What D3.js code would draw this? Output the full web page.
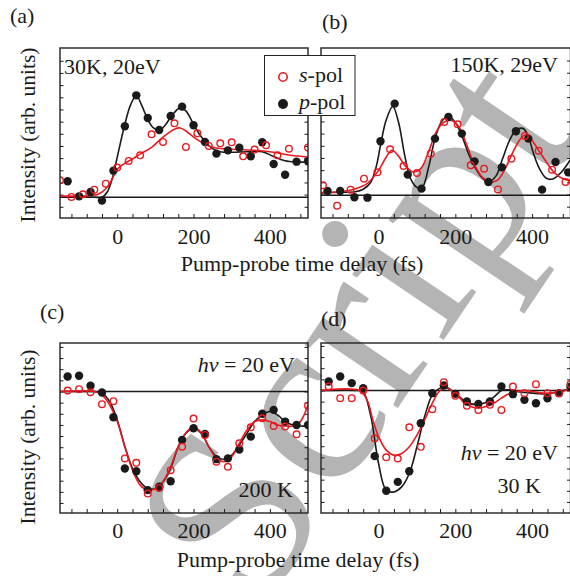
<!DOCTYPE html>
<html>
<head>
<meta charset="utf-8">
<script src="https://cdn.jsdelivr.net/npm/d3@7"></script>
<style>
  body { margin: 0; background: #fff; }
  text { font-family: "Liberation Serif", "Times New Roman", serif; fill: #1a1a1a; }
</style>
</head>
<body>
<div id="fig"></div>
<script>
// x axis (fs) – shared by all four panels
const X_DOMAIN = [-150, 500];
const X_TICKS = d3.range(-120, 501, 40);
const X_LABELS = [0, 200, 400];

// (a) 30K, 20eV  – [delay fs, intensity]
const A_P = [[-130,1.32],[-100,0.08],[-70,0.44],[-40,-0.27],[-10,2.19],[20,5.84],[50,8.38],[80,6.52],[110,5.53],[140,6.68],[170,7.45],[200,5.92],[230,4.55],[260,3.59],[290,3.86],[320,4.08],[350,3.37],[380,4.52],[410,2.74],[440,1.86],[470,2.93],[500,2.96]];
const A_S = [[-150,1.40],[-120,0.03],[-90,0.25],[-60,0.63],[-30,1.12],[0,2.44],[30,2.99],[60,3.45],[90,5.18],[120,4.55],[150,6.08],[180,4.14],[210,5.26],[240,4.22],[270,4.44],[300,4.52],[330,3.37],[360,3.92],[390,4.27],[420,3.45],[450,4.00],[500,4.10]];
const A_PFIT = [[-150,0.05],[-100,0.02],[-60,0],[-40,0],[-25,0.5],[-10,1.9],[0,3.3],[20,6.0],[35,7.6],[50,8.35],[65,7.5],[80,6.4],[95,5.7],[110,5.5],[125,5.9],[145,6.8],[165,7.35],[180,7.1],[200,6.0],[215,5.2],[230,4.6],[250,4.0],[270,3.75],[300,3.7],[340,3.75],[380,3.75],[410,3.35],[440,3.0],[470,2.9],[500,2.9]];
const A_SFIT = [[-150,0.1],[-100,0.1],[-70,0.15],[-50,0.25],[-30,0.7],[-15,1.4],[0,2.3],[20,2.8],[40,3.15],[60,3.55],[90,4.1],[120,4.95],[150,5.6],[165,5.7],[180,5.45],[205,4.85],[230,4.35],[260,4.05],[300,3.95],[370,3.85],[410,3.7],[455,3.45],[500,3.3]];

// (b) 150K, 29eV
const B_P = [[-133,0.36],[-100,0.36],[-63,-0.16],[-29,-0.19],[5,4.44],[42,7.53],[76,1.70],[112,0.55],[147,4.66],[182,6.44],[217,5.07],[250,2.79],[286,1.10],[321,2.30],[358,5.26],[390,4.66],[426,0.47],[461,2.74],[494,1.89]];
const B_S = [[-145,0.82],[-108,-0.85],[-73,0.47],[-38,1.37],[-3,1.89],[30,3.78],[65,2.41],[100,1.84],[136,3.42],[171,6.03],[206,5.84],[240,2.47],[275,2.19],[311,0.49],[346,3.01],[381,4.88],[417,3.67],[452,2.11],[487,1.10]];
const B_PFIT = [[-150,0.2],[-100,0.25],[-60,0.3],[-40,0.5],[-20,1.1],[-5,2.5],[5,4.1],[20,6.2],[37,7.3],[52,6.0],[68,3.3],[83,1.4],[100,0.65],[113,0.6],[131,2.4],[148,4.8],[166,6.15],[182,6.5],[200,6.0],[218,4.8],[236,3.3],[253,2.2],[271,1.4],[288,1.15],[306,1.6],[323,3.0],[341,4.5],[358,5.35],[376,5.5],[389,4.95],[402,3.6],[419,2.2],[437,1.4],[454,1.35],[476,1.9],[500,2.95]];
const B_SFIT = [[-150,0.22],[-100,0.3],[-60,0.55],[-30,0.96],[0,2.05],[20,3.15],[35,3.7],[50,3.3],[70,2.4],[90,1.92],[110,2.2],[130,3.55],[150,5.2],[170,6.0],[190,6.15],[210,5.6],[230,4.1],[250,2.5],[270,1.5],[290,1.1],[310,1.25],[330,2.2],[350,3.55],[370,4.65],[385,5.0],[400,4.5],[420,3.55],[440,2.6],[460,1.8],[480,1.37],[500,1.2]];

// (c) hv = 20 eV, 200 K
const C_P = [[-130,1.35],[-100,1.41],[-70,0.51],[-40,-0.09],[-10,-2.31],[20,-6.91],[50,-7.15],[80,-8.85],[110,-8.55],[140,-8.05],[170,-4.35],[200,-3.3],[230,-3.8],[260,-6.07],[290,-6.0],[320,-5.2],[350,-4.05],[380,-2.0],[410,-1.65],[440,-2.7],[470,-3.0],[500,-3.0]];
const C_S = [[-130,0.09],[-100,0.21],[-70,-0.06],[-40,-1.14],[-10,-0.87],[20,-6.0],[50,-6.4],[80,-9.16],[110,-8.65],[140,-7.06],[170,-4.95],[200,-2.43],[230,-3.9],[260,-6.3],[290,-6.76],[320,-4.65],[350,-3.21],[380,-2.4],[410,-3.09],[440,-3.15],[470,-3.84],[500,-1.29]];
const C_PFIT = [[-150,0],[-80,0],[-60,0],[-40,-0.15],[-20,-0.9],[0,-2.55],[20,-4.95],[40,-6.9],[60,-8.1],[80,-8.7],[100,-8.7],[120,-8.1],[140,-6.9],[160,-4.95],[180,-3.75],[200,-3.3],[220,-3.75],[240,-4.95],[260,-5.85],[280,-6.1],[300,-5.7],[320,-4.8],[340,-3.75],[360,-2.7],[380,-2.1],[400,-1.8],[420,-2.1],[440,-2.7],[460,-3.0],[480,-3.1],[500,-3.1]];
const C_SFIT = [[-150,0],[-60,0],[-40,-0.3],[-20,-1.2],[0,-2.7],[20,-4.95],[40,-7.05],[60,-8.4],[80,-8.85],[100,-8.7],[120,-8.1],[140,-6.75],[160,-4.95],[180,-3.7],[200,-3.2],[220,-3.7],[240,-4.95],[260,-6.0],[280,-6.3],[300,-5.85],[320,-4.65],[340,-3.45],[360,-2.7],[380,-2.55],[400,-2.7],[420,-3.0],[440,-3.1],[460,-3.1],[480,-2.7],[500,-1.2]];

// (d) hv = 20 eV, 30 K
const D_P = [[-130,0.81],[-100,1.26],[-70,0.66],[-40,0.21],[-10,-5.89],[20,-9.0],[50,-8.2],[80,-7.24],[110,-2.94],[140,-0.24],[170,0.45],[200,-0.3],[230,-0.99],[260,-1.2],[290,-0.99],[320,0.36],[350,-0.33],[380,-0.84],[410,-1.14],[440,-0.69],[470,-0.24],[500,0.35]];
const D_S = [[-130,0.36],[-100,-0.69],[-70,-0.69],[-40,0],[-10,-4.29],[20,-6.0],[50,-6.1],[80,-3.3],[110,-5.05],[140,-1.68],[170,0.75],[200,-0.48],[230,-1.38],[260,-1.74],[290,-1.29],[320,-1.74],[350,0.36],[380,-0.24],[410,0.57],[440,-0.24],[470,-0.24],[500,0.57]];
const D_PFIT = [[-150,0],[-50,0],[-40,-0.09],[-20,-2.34],[0,-6.55],[20,-8.95],[40,-9.1],[60,-8.65],[80,-7.45],[100,-5.05],[120,-2.34],[140,-0.39],[160,0.21],[175,0.3],[200,-0.24],[220,-0.84],[240,-1.2],[260,-1.23],[280,-1.08],[300,-0.6],[320,0],[340,0.06],[360,-0.09],[380,-0.18],[400,-0.24],[430,-0.3],[460,-0.18],[500,0.21]];
const D_SFIT = [[-150,0],[-50,0],[-30,-0.84],[-15,-2.64],[0,-4.14],[20,-5.35],[40,-5.8],[60,-5.65],[80,-5.05],[100,-4.0],[120,-2.64],[140,-1.14],[160,0],[175,0.21],[200,-0.24],[220,-0.99],[240,-1.44],[260,-1.59],[280,-1.44],[300,-1.14],[320,-0.69],[340,-0.3],[360,-0.09],[380,0],[400,-0.09],[430,-0.24],[460,-0.18],[480,-0.09],[500,0.27]];

const RED = "#e8191f", BLACK = "#1a1a1a";

const W = 570, H = 576;
const svg = d3.select("#fig").append("svg").attr("width", W).attr("height", H);

// watermark (behind everything)
svg.append("text")
  .attr("transform", "translate(258,615) rotate(-56)")
  .style("font-size", "245px")
  .style("fill", "#b4b4b4")
  .text("Script");

const panels = [
  { id: "a", x0: 60,  x1: 308,   y0: 48,  y1: 218, yDom: [-1.70, 12.27], yTicks: d3.range(-0.78, 12.2, 1),
    p: A_P, s: A_S, pFit: A_PFIT, sFit: A_SFIT, pad: 10 },
  { id: "b", x0: 321, x1: 570.5, y0: 48,  y1: 218, yDom: [-1.86, 12.1],  yTicks: d3.range(-0.93, 12, 1),
    p: B_P, s: B_S, pFit: B_PFIT, sFit: B_SFIT, pad: 10 },
  { id: "c", x0: 60,  x1: 308,   y0: 343, y1: 513, yDom: [-10.9, 4.35],  yTicks: d3.range(-10, 5, 1),
    p: C_P, s: C_S, pFit: C_PFIT, sFit: C_SFIT, pad: 9 },
  { id: "d", x0: 321, x1: 570.5, y0: 343, y1: 513, yDom: [-10.99, 4.26], yTicks: d3.range(-10, 5, 1),
    p: D_P, s: D_S, pFit: D_PFIT, sFit: D_SFIT, pad: 9 }
];

panels.forEach(P => {
  const x = d3.scaleLinear().domain(X_DOMAIN).range([P.x0, P.x1]);
  const y = d3.scaleLinear().domain(P.yDom).range([P.y1, P.y0]);
  const g = svg.append("g");

  g.append("clipPath").attr("id", "clip-" + P.id)
    .append("rect").attr("x", P.x0).attr("y", P.y0)
    .attr("width", P.x1 - P.x0).attr("height", P.y1 - P.y0);

  // ticks (inward, no domain path)
  const xAx = g.append("g").attr("transform", `translate(0,${P.y1})`)
    .call(d3.axisBottom(x).tickValues(X_TICKS).tickSizeInner(-4).tickSizeOuter(0)
      .tickPadding(P.pad).tickFormat(d => X_LABELS.includes(d) ? d : ""));
  xAx.select(".domain").remove();
  xAx.selectAll("text").style("font-size", "22px").style("font-family", "Liberation Serif, serif").attr("fill", BLACK);
  xAx.selectAll("line").attr("stroke", BLACK);

  [d3.axisLeft(y), d3.axisRight(y)].forEach((ax, i) => {
    const a = g.append("g").attr("transform", `translate(${i ? P.x1 : P.x0},0)`)
      .call(ax.tickValues(P.yTicks).tickSizeInner(-3.5).tickSizeOuter(0).tickFormat(""));
    a.select(".domain").remove();
    a.selectAll("line").attr("stroke", BLACK);
  });

  const inner = g.append("g").attr("clip-path", `url(#clip-${P.id})`);

  // zero line
  inner.append("line")
    .attr("x1", P.x0).attr("x2", P.x1).attr("y1", y(0)).attr("y2", y(0))
    .attr("stroke", BLACK).attr("stroke-width", 1.5);

  const line = d3.line().x(d => x(d[0])).y(d => y(d[1])).curve(d3.curveCatmullRom);

  inner.append("path").datum(P.pFit).attr("d", line)
    .attr("fill", "none").attr("stroke", BLACK).attr("stroke-width", 1.6);
  inner.append("path").datum(P.sFit).attr("d", line)
    .attr("fill", "none").attr("stroke", RED).attr("stroke-width", 1.6);

  inner.selectAll(".pdot").data(P.p).join("circle")
    .attr("cx", d => x(d[0])).attr("cy", d => y(d[1])).attr("r", 4.2)
    .attr("fill", BLACK);
  inner.selectAll(".sdot").data(P.s).join("circle")
    .attr("cx", d => x(d[0])).attr("cy", d => y(d[1])).attr("r", 3.3)
    .attr("fill", "none").attr("stroke", RED).attr("stroke-width", 1.4);

  // frame
  g.append("rect").attr("x", P.x0).attr("y", P.y0)
    .attr("width", P.x1 - P.x0).attr("height", P.y1 - P.y0)
    .attr("fill", "none").attr("stroke", "#222").attr("stroke-width", 1.4);
});

// panel letters
const lab = (x, y, t, anchor = "start") => svg.append("text")
  .attr("x", x).attr("y", y).attr("text-anchor", anchor)
  .style("font-size", "22px").text(t);
lab(10, 23, "(a)");
lab(322, 29, "(b)");
lab(40, 319, "(c)");
lab(321, 326, "(d)");

// in-panel annotations
lab(64, 74, "30K, 20eV");
lab(558, 72, "150K, 29eV", "end");
lab(293, 497, "200 K", "end");
lab(541, 493, "30 K", "end");
[[295, 372], [558, 460]].forEach(([xx, yy]) => {
  const t = svg.append("text").attr("x", xx).attr("y", yy).attr("text-anchor", "end")
    .style("font-size", "22px");
  t.append("tspan").style("font-style", "italic").text("hv");
  t.append("tspan").text(" = 20 eV");
});

// axis titles
[[302, 271], [298, 567]].forEach(([xx, yy]) => lab(xx, yy, "Pump-probe time delay (fs)", "middle"));
[135, 437].forEach(cy => svg.append("text")
  .attr("transform", `translate(35,${cy}) rotate(-90)`)
  .attr("text-anchor", "middle").style("font-size", "21.5px")
  .text("Intensity (arb. units)"));

// legend
const lg = svg.append("g");
lg.append("rect").attr("x", 264.5).attr("y", 55.5).attr("width", 90.5).attr("height", 60)
  .attr("fill", "#fff").attr("stroke", "#222").attr("stroke-width", 1);
lg.append("circle").attr("cx", 283).attr("cy", 77).attr("r", 4.2)
  .attr("fill", "none").attr("stroke", RED).attr("stroke-width", 1.6);
lg.append("circle").attr("cx", 283).attr("cy", 104).attr("r", 5)
  .attr("fill", BLACK);
[["s", 81.5], ["p", 108.5]].forEach(([k, yy]) => {
  const t = lg.append("text").attr("x", 299).attr("y", yy).style("font-size", "22px");
  t.append("tspan").style("font-style", "italic").text(k);
  t.append("tspan").text("-pol");
});
</script>
</body>
</html>
